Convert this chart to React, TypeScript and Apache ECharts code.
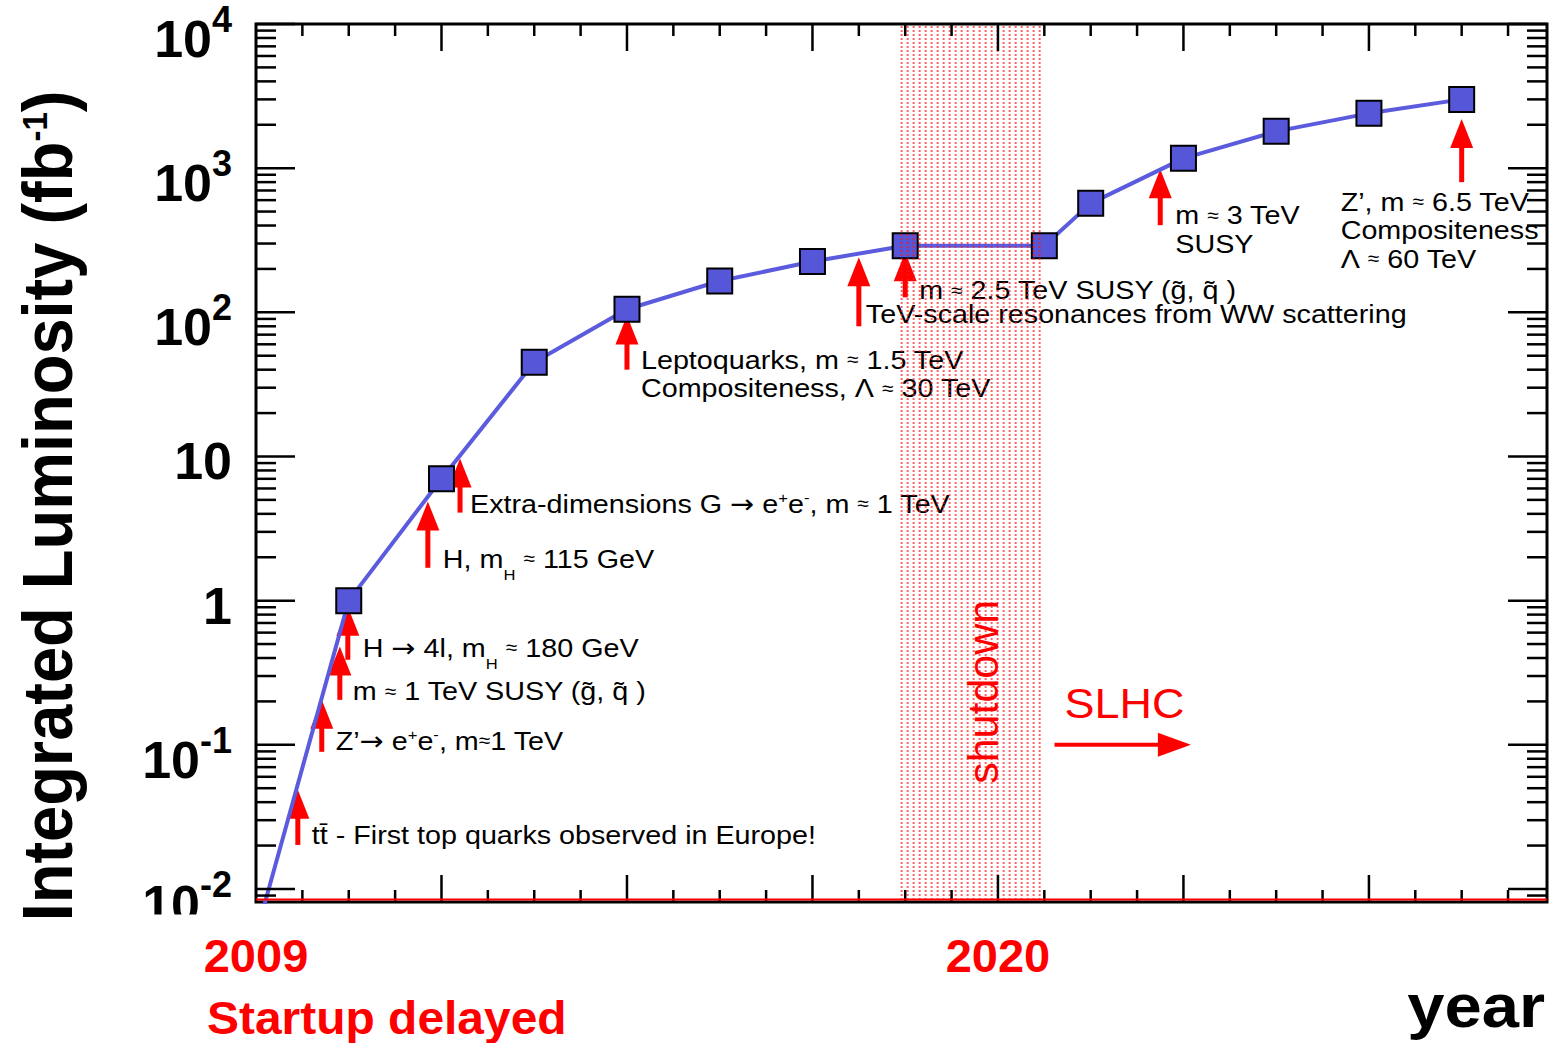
import { useEffect, useRef } from 'react';
import * as echarts from 'echarts';

const FONT = "'Liberation Sans', Arial, Helvetica, sans-serif";
const ARROW_FONT = "'DejaVu Sans', sans-serif";

// Integrated luminosity (fb^-1) reached at the end of each running year; x counts years of running
const runYear = [0, 1, 2, 3, 4, 5, 6, 7, 8.5, 9, 10, 11, 12, 13];
const lumiFb = [0.0048, 1, 7, 45, 105, 165, 225, 290, 290, 570, 1170, 1800, 2400, 3000];

const xRange = [0, 13.92];
const yRange = [0.00812, 10000];

// Calendar years written under the run axis
const yearTickValues = [0, 8];
const yearTickLabels = ['2009', '2020'];

// Long shutdown between the LHC and SLHC phases
const shutdownSpan = [6.94, 8.47];
const shutdownLabelAt = [7.842, 0.233];

// SLHC arrow, drawn at a fixed luminosity level
const slhcArrowSpan = [8.61, 10.08];
const slhcLevel = 0.1;

// Decades labelled on the luminosity axis
const decadeExponents = [-2, -1, 0, 1, 2, 3, 4];

// Physics reach: arrow (x, tip, foot in data units) and text offset in px from the arrow foot
const reachMarks = [
  { x: 0.451, tip: 0.0487, foot: 0.0202, dx: 14, dy: -10, lines: ['{n|tt\u0304 - First top quarks observed in Europe!}'] },
  { x: 0.709, tip: 0.205, foot: 0.0894, dx: 14, dy: -11, lines: ['{n|Z\u2019}{a|\u2192}{n| e}{sup|+}{n|e}{sup|-}{n|, m}{s|\u2248}{n|1 TeV}'] },
  { x: 0.904, tip: 0.48, foot: 0.205, dx: 13, dy: -9, lines: ['{n|m }{s|\u2248}{n| 1 TeV SUSY (g\u0303, q\u0303 )}'] },
  { x: 0.99, tip: 0.908, foot: 0.389, dx: 15, dy: -12, lines: ['{n|H }{a|\u2192}{n| 4l, m}{sub|H}{n| }{s|\u2248}{n| 180 GeV}'] },
  { x: 1.853, tip: 4.87, foot: 1.69, dx: 15, dy: -9, lines: ['{n|H, m}{sub|H}{n| }{s|\u2248}{n| 115 GeV}'] },
  { x: 2.2, tip: 9.7, foot: 4.08, dx: 10, dy: -9, lines: ['{n|Extra-dimensions G }{a|\u2192}{n| e}{sup|+}{n|e}{sup|-}{n|, m }{s|\u2248}{n| 1 TeV}'] },
  { x: 4.0, tip: 95, foot: 40, dx: 14, dy: -10, lines: ['{n|Leptoquarks, m }{s|\u2248}{n| 1.5 TeV}', '{n|Compositeness, \u039b }{s|\u2248}{n| 30 TeV}'] },
  { x: 6.5, tip: 241, foot: 80, dx: 7, dy: -12, lines: ['{n|TeV-scale resonances from WW scattering}'] },
  { x: 7.0, tip: 261, foot: 127, dx: 14, dy: -7, lines: ['{n|m }{s|\u2248}{n| 2.5 TeV SUSY (g\u0303, q\u0303 )}'] },
  { x: 9.75, tip: 984, foot: 402, dx: 15, dy: -10, lines: ['{n|m }{s|\u2248}{n| 3 TeV}', '{n|SUSY}'] },
  { x: 13.0, tip: 2190, foot: 800, dx: -121, dy: 19.5, lines: ['{n|Z\u2019, m }{s|\u2248}{n| 6.5 TeV}', '{n|Compositeness}', '{n|\u039b }{s|\u2248}{n| 60 TeV}'] },
];

const RED = '#ff0000';
const NOTE_LINE_GAP = 28.5;

const noteRich = {
  n: { fontFamily: FONT, fontSize: 26, lineHeight: 36, fill: '#000' },
  s: { fontFamily: FONT, fontSize: 19, lineHeight: 36, fill: '#000' },
  a: { fontFamily: ARROW_FONT, fontSize: 26, lineHeight: 36, fill: '#000' },
  sup: { fontFamily: FONT, fontSize: 15, height: 24, verticalAlign: 'top', fill: '#000' },
  sub: { fontFamily: FONT, fontSize: 15, height: 4, verticalAlign: 'bottom', fill: '#000' },
};

const decadeRich = {
  b: { fontFamily: FONT, fontWeight: 'bold', fontSize: 52, lineHeight: 75, fill: '#000' },
  s: { fontFamily: FONT, fontWeight: 'bold', fontSize: 36, verticalAlign: 'top', fill: '#000' },
};

function upArrow(cx: number, tipY: number, footY: number) {
  const headLen = 29;
  const half = 11.5;
  return [
    { type: 'rect', shape: { x: cx - 2.5, y: tipY + headLen - 2, width: 5, height: footY - tipY - headLen + 2 }, style: { fill: RED } },
    { type: 'polygon', shape: { points: [[cx, tipY], [cx - half, tipY + headLen], [cx + half, tipY + headLen]] }, style: { fill: RED } },
  ];
}

function noteText(x: number, y: number, text: string) {
  return {
    type: 'text',
    x,
    y,
    scaleX: 1.105,
    style: { text, rich: noteRich, fill: '#000', fontFamily: FONT, fontSize: 26, align: 'left', verticalAlign: 'middle' },
  };
}

function seg(x1: number, y1: number, x2: number, y2: number, stroke = '#000', lineWidth = 2.5) {
  return { type: 'line', shape: { x1, y1, x2, y2 }, style: { stroke, lineWidth } };
}

function renderNotes(_params: any, api: any) {
  const kids: any[] = [];
  reachMarks.forEach((m) => {
    const [ax, tipY] = api.coord([m.x, m.tip]);
    const footY = api.coord([m.x, m.foot])[1];
    kids.push(...upArrow(ax, tipY, footY));
    m.lines.forEach((t, i) => kids.push(noteText(ax + m.dx, footY + m.dy + i * NOTE_LINE_GAP, t)));
  });
  // SLHC arrow and caption
  const [sx0, sy] = api.coord([slhcArrowSpan[0], slhcLevel]);
  const sx1 = api.coord([slhcArrowSpan[1], slhcLevel])[0];
  kids.push({ type: 'rect', shape: { x: sx0, y: sy - 2, width: sx1 - sx0 - 30, height: 4 }, style: { fill: RED } });
  kids.push({ type: 'polygon', shape: { points: [[sx1, sy], [sx1 - 33, sy - 12], [sx1 - 33, sy + 12]] }, style: { fill: RED } });
  kids.push({
    type: 'text', x: sx0 + 10, y: sy - 41, scaleX: 1.07,
    style: { text: 'SLHC', fill: RED, fontFamily: FONT, fontSize: 42, align: 'left', verticalAlign: 'middle' },
  });
  return { type: 'group', children: kids };
}

function renderShutdown(_params: any, api: any) {
  const kids: any[] = [];
  const [bx0, by0] = api.coord([shutdownSpan[0], yRange[1]]);
  const [bx1, by1] = api.coord([shutdownSpan[1], yRange[0]]);
  for (let x = bx0 + 2; x < bx1; x += 6) {
    kids.push({
      type: 'line',
      shape: { x1: x, y1: by0 + 2, x2: x, y2: by1 - 2 },
      style: { stroke: 'rgba(255,20,20,0.66)', lineWidth: 2, lineDash: [2, 2] },
    });
  }
  const [lx, ly] = api.coord(shutdownLabelAt);
  kids.push({
    type: 'text', x: lx, y: ly, rotation: Math.PI / 2,
    style: { text: 'shutdown', fill: RED, fontFamily: FONT, fontSize: 43, align: 'center', verticalAlign: 'middle' },
  });
  return { type: 'group', children: kids };
}

function renderFrame(params: any, api: any) {
  const cs = params.coordSys;
  const L = cs.x;
  const T = cs.y;
  const R = cs.x + cs.width;
  const B = cs.y + cs.height;
  const kids: any[] = [];
  // run-year ticks on bottom and top edges: minor every half year, major every two years
  for (let k = 1; k * 0.5 < xRange[1]; k++) {
    const px = api.coord([k * 0.5, yRange[0]])[0];
    const len = k % 4 === 0 ? 27 : 12;
    kids.push(seg(px, B, px, B - len), seg(px, T, px, T + len));
  }
  // logarithmic ticks on left and right edges
  for (let e = -3; e <= 4; e++) {
    for (let m = 1; m <= 9; m++) {
      const v = m * Math.pow(10, e);
      if (v < yRange[0] || v > yRange[1] * 1.001) continue;
      const py = api.coord([xRange[0], v])[1];
      const len = m === 1 ? 39 : 20;
      kids.push(seg(L, py, L + len, py), seg(R, py, R - len, py));
    }
  }
  kids.push(seg(L, B - 2.5, R, B - 2.5, RED, 2));
  // decade labels
  decadeExponents.forEach((e) => {
    const py = api.coord([xRange[0], Math.pow(10, e)])[1];
    const plain = e === 0 || e === 1;
    const text = e === 0 ? '{b|1}' : e === 1 ? '{b|10}' : `{b|10}{s|${e}}`;
    kids.push({
      type: 'text', x: L - 24, y: py + (plain ? 5 : 15),
      style: { text, rich: decadeRich, fill: '#000', fontFamily: FONT, fontSize: 52, align: 'right', verticalAlign: 'middle' },
    });
  });
  kids.push({ type: 'rect', shape: { x: 110, y: B + 12.5, width: 140, height: 18 }, style: { fill: '#fff' } });
  return { type: 'group', children: kids };
}

export default function App() {
  const ref = useRef<HTMLDivElement>(null);

  useEffect(() => {
    if (!ref.current) return;
    const chart = echarts.init(ref.current, null, { renderer: 'svg' });
    const option: any = {
      animation: false,
      backgroundColor: '#fff',
      grid: {
        left: 256, top: 24, width: 1291, height: 878,
        show: true, borderColor: '#000', borderWidth: 3, backgroundColor: 'transparent',
      },
      xAxis: {
        type: 'value',
        min: xRange[0],
        max: xRange[1],
        interval: 0.5,
        axisLine: { show: false },
        axisTick: { show: false },
        splitLine: { show: false },
        axisLabel: {
          show: true,
          margin: 30,
          color: RED,
          fontFamily: FONT,
          fontSize: 47,
          fontWeight: 'bold',
          hideOverlap: false,
          formatter: (v: number) => {
            const i = yearTickValues.findIndex((t) => Math.abs(t - v) < 1e-6);
            return i >= 0 ? yearTickLabels[i] : '';
          },
        },
      },
      yAxis: {
        type: 'log',
        logBase: 10,
        min: yRange[0],
        max: yRange[1],
        axisLine: { show: false },
        axisTick: { show: false },
        axisLabel: { show: false },
        splitLine: { show: false },
      },
      graphic: [
        {
          type: 'text', x: 48, y: 506, rotation: Math.PI / 2, scaleY: 1.08,
          style: {
            text: '{b|Integrated Luminosity (fb}{s|-1}{b|)}',
            rich: {
              b: { fontFamily: FONT, fontWeight: 'bold', fontSize: 65, lineHeight: 58, fill: '#000' },
              s: { fontFamily: FONT, fontWeight: 'bold', fontSize: 33, verticalAlign: 'top', fill: '#000' },
            },
            fill: '#000', align: 'center', verticalAlign: 'middle',
          },
        },
        {
          type: 'text', x: 207, y: 1018, scaleX: 1.02,
          style: { text: 'Startup delayed', fill: RED, fontFamily: FONT, fontWeight: 'bold', fontSize: 47, align: 'left', verticalAlign: 'middle' },
        },
        {
          type: 'text', x: 1545, y: 1006, scaleX: 1.08,
          style: { text: 'year', fill: '#000', fontFamily: FONT, fontWeight: 'bold', fontSize: 62, align: 'right', verticalAlign: 'middle' },
        },
      ],
      series: [
        { type: 'custom', name: 'reach', z: 1, silent: true, renderItem: renderNotes, data: [[0, 1]] },
        {
          type: 'line',
          name: 'luminosity',
          z: 2,
          clip: true,
          data: runYear.map((x, i) => (i === 0 ? { value: [x, lumiFb[i]], symbol: 'none' } : [x, lumiFb[i]])),
          symbol: 'rect',
          symbolSize: 25,
          itemStyle: { color: '#5656d8', borderColor: '#000', borderWidth: 2 },
          lineStyle: { color: '#5b5bde', width: 4 },
        },
        { type: 'custom', name: 'shutdown', z: 3, silent: true, renderItem: renderShutdown, data: [[0, 1]] },
        { type: 'custom', name: 'frame', z: 4, silent: true, renderItem: renderFrame, data: [[0, 1]] },
      ],
    };
    chart.setOption(option);
    return () => chart.dispose();
  }, []);

  return (
    <div
      ref={ref}
      style={{ position: 'fixed', left: 0, top: 0, width: 1554, height: 1043, background: '#fff' }}
    />
  );
}
